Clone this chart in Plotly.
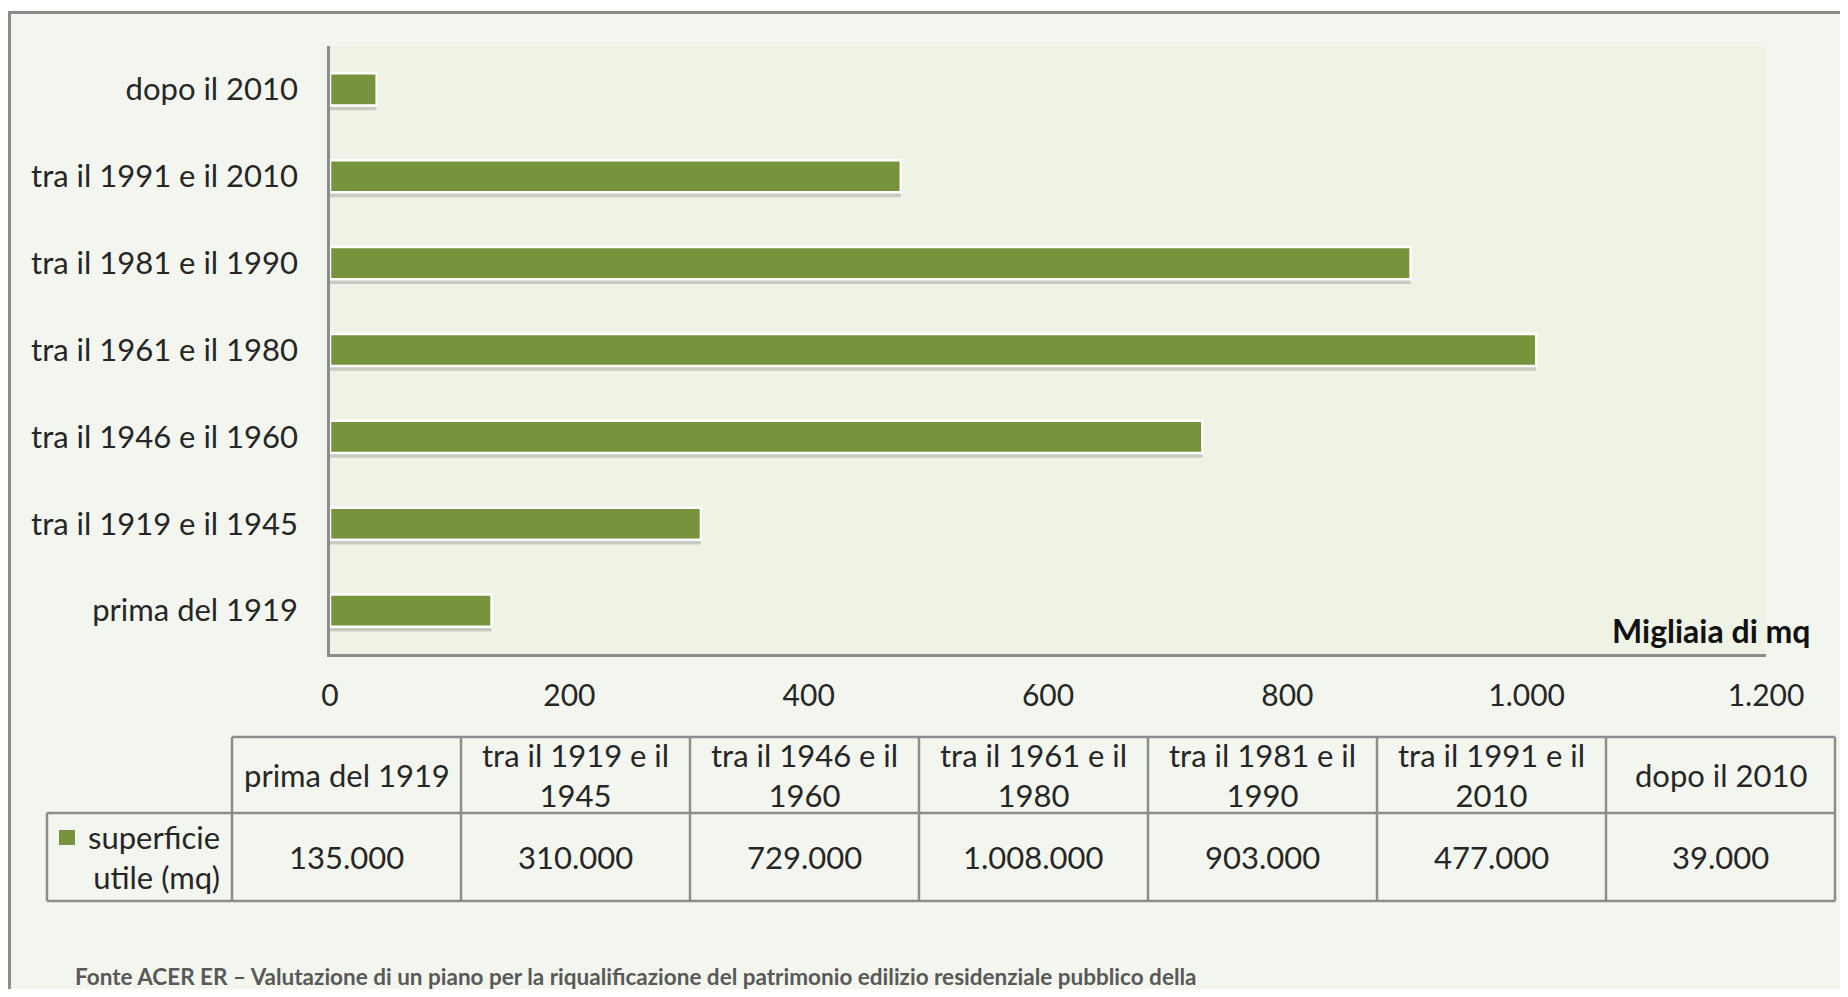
import plotly.graph_objects as go

# ---------------- data ----------------
categories = ["prima del 1919", "tra il 1919 e il 1945", "tra il 1946 e il 1960",
              "tra il 1961 e il 1980", "tra il 1981 e il 1990", "tra il 1991 e il 2010",
              "dopo il 2010"]
superficie_mq = [135000, 310000, 729000, 1008000, 903000, 477000, 39000]
header_labels = ["prima del 1919", "tra il 1919 e il<br>1945", "tra il 1946 e il<br>1960",
                 "tra il 1961 e il<br>1980", "tra il 1981 e il<br>1990", "tra il 1991 e il<br>2010",
                 "dopo il 2010"]
x_tickvals = [0, 200, 400, 600, 800, 1000, 1200]
x_ticktext = ["0", "200", "400", "600", "800", "1.000", "1.200"]
series_name = "superficie<br>utile (mq)"
unit_label = "Migliaia di mq"
source_text = ("Fonte ACER ER \u2013 Valutazione di un piano per la riqualificazione del "
               "patrimonio edilizio residenziale pubblico della")

# ---------------- styling ----------------
OX, OY = 8, 8            # default page (body) margin
FW, FH = 1832, 981       # figure size so that page fits the 1848x997 window
FONT = "Lato"
TXT = "#262626"
BAR = "#77933C"
GRAY = "#8C8C8C"
CHART_BG = "#F3F6EE"
PLOT_BG = "#EEF3E5"


def px(x):
    """window x pixel -> paper fraction"""
    return (x - OX) / FW


def py(y):
    """window y pixel -> paper fraction"""
    return 1 - (y - OY) / FH


bar_values = [v / 1000 for v in superficie_mq]

fig = go.Figure()
# soft shadow under bars
fig.add_trace(go.Bar(
    y=categories, x=bar_values, orientation="h",
    width=0.37, offset=-0.185 - 0.055,
    marker=dict(color="rgba(0,0,0,0.16)", line=dict(width=0)),
    hoverinfo="skip", showlegend=False,
))
fig.add_trace(go.Bar(
    y=categories, x=bar_values, orientation="h",
    width=0.37, offset=-0.185,
    marker=dict(color=BAR, line=dict(color="white", width=2.5)),
    name="superficie utile (mq)", showlegend=False,
))

shapes = []
# white strip above the outer frame
shapes.append(dict(type="rect", xref="paper", yref="paper", x0=-0.01, x1=1.01, y0=py(11), y1=1.01,
                   fillcolor="white", line=dict(width=0), layer="below"))
# frame lines
shapes.append(dict(type="line", xref="paper", yref="paper", x0=px(8), x1=1.01, y0=py(12.5), y1=py(12.5),
                   line=dict(color=GRAY, width=3)))
shapes.append(dict(type="line", xref="paper", yref="paper", x0=px(9.5), x1=px(9.5), y0=py(11), y1=-0.01,
                   line=dict(color=GRAY, width=3)))

# data table
T_TOP, T_MID, T_BOT = 737, 813, 901
T_LEFT, C0, CW = 47, 232, (1835 - 232) / 7
edges = [C0 + i * CW for i in range(8)]
tl = dict(color=GRAY, width=2.5)
shapes.append(dict(type="line", xref="paper", yref="paper", x0=px(C0), x1=px(edges[-1]),
                   y0=py(T_TOP), y1=py(T_TOP), line=tl))
for yy in (T_MID, T_BOT):
    shapes.append(dict(type="line", xref="paper", yref="paper", x0=px(T_LEFT), x1=px(edges[-1]),
                       y0=py(yy), y1=py(yy), line=tl))
shapes.append(dict(type="line", xref="paper", yref="paper", x0=px(T_LEFT), x1=px(T_LEFT),
                   y0=py(T_MID), y1=py(T_BOT), line=tl))
for e in edges:
    shapes.append(dict(type="line", xref="paper", yref="paper", x0=px(e), x1=px(e),
                       y0=py(T_TOP), y1=py(T_BOT), line=tl))
# legend key in table
shapes.append(dict(type="rect", xref="paper", yref="paper", x0=px(59), x1=px(75),
                   y0=py(845), y1=py(830), fillcolor=BAR, line=dict(width=0)))

annotations = []
for i, (lab, val) in enumerate(zip(header_labels, superficie_mq)):
    cx = (edges[i] + edges[i + 1]) / 2
    annotations.append(dict(xref="paper", yref="paper", x=px(cx), y=py((T_TOP + T_MID) / 2),
                            text=lab, showarrow=False, xanchor="center", yanchor="middle",
                            align="center", font=dict(family=FONT, size=31, color=TXT)))
    annotations.append(dict(xref="paper", yref="paper", x=px(cx), y=py((T_MID + T_BOT) / 2),
                            text=f"{val:,}".replace(",", "."), showarrow=False,
                            xanchor="center", yanchor="middle",
                            font=dict(family=FONT, size=31, color=TXT)))
annotations.append(dict(xref="paper", yref="paper", x=px(222), y=py((T_MID + T_BOT) / 2),
                        text=series_name, showarrow=False, xanchor="right", yanchor="middle",
                        align="right", font=dict(family=FONT, size=31, color=TXT)))
annotations.append(dict(xref="paper", yref="paper", x=px(1813), y=py(630),
                        text=f"<b>{unit_label}</b>", showarrow=False, xanchor="right",
                        yanchor="middle", font=dict(family=FONT, size=32, color="#111111")))
annotations.append(dict(xref="paper", yref="paper", x=px(73), y=py(976),
                        text=f"<b>{source_text}</b>", showarrow=False, xanchor="left",
                        yanchor="middle", font=dict(family=FONT, size=22.5, color="#595959")))

fig.update_layout(
    width=FW, height=FH, autosize=False,
    margin=dict(l=0, r=0, t=0, b=0, pad=0),
    paper_bgcolor=CHART_BG, plot_bgcolor=PLOT_BG,
    font=dict(family=FONT, color=TXT),
    barmode="overlay",
    showlegend=False,
    shapes=shapes, annotations=annotations,
    xaxis=dict(domain=[px(330), px(1766)], range=[0, 1200], showgrid=False, zeroline=False,
               showline=True, linecolor=GRAY, linewidth=2.5, ticks="", automargin=False,
               tickvals=x_tickvals, ticktext=x_ticktext, ticklabelstandoff=13,
               tickfont=dict(family=FONT, size=30, color=TXT), fixedrange=True),
    yaxis=dict(domain=[py(654), py(46)], range=[-0.5, 6.5], type="category",
               categoryorder="array", categoryarray=categories, automargin=False,
               showgrid=False, zeroline=False, showline=True, linecolor=GRAY, linewidth=2.5,
               ticks="", ticklabelstandoff=23,
               tickfont=dict(family=FONT, size=31, color=TXT), fixedrange=True),
)

fig.write_html("out.html", config={"responsive": False, "displayModeBar": False})
